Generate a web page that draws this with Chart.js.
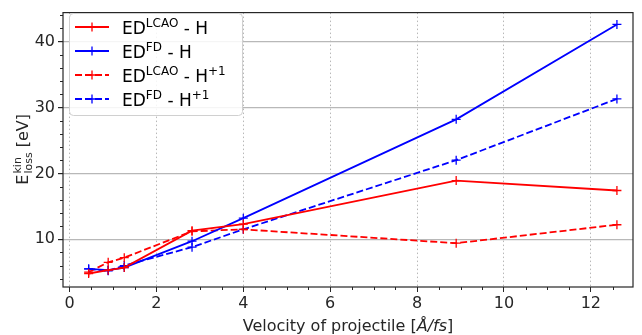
<!DOCTYPE html>
<html>
<head>
<meta charset="utf-8">
<script src="https://cdn.jsdelivr.net/npm/chart.js@4.4.1/dist/chart.umd.min.js"></script>
<style>
  html, body { margin: 0; padding: 0; background: #fff; }
  #wrap { width: 642px; height: 335px; }
</style>
</head>
<body>
<div id="wrap"><canvas id="c"></canvas></div>
<script>
// velocities of projectile [Å/fs]
const velocity = [0.44, 0.89, 1.26, 2.82, 4.0, 8.9, 12.6];

// kinetic energy loss [eV]
const lcaoH = [4.8, 5.3, 5.7, 11.3, 12.3, 18.9, 17.4];
const fdH = [5.5, 5.3, 5.7, 9.7, 13.2, 28.2, 42.6];
const lcaoH1 = [5.0, 6.5, 7.2, 11.2, 11.5, 9.4, 12.2];
const fdH1 = [5.5, 5.2, 6.0, 8.8, 11.5, 22.0, 31.3];

const xTicks = [0, 2, 4, 6, 8, 10, 12];
const yTicks = [10, 20, 30, 40];

const FONT = '"DejaVu Sans", sans-serif';
const INK = '#262626';
const DASH = [7, 3];

function pts(ys) {
    return velocity.map((v, i) => ({ x: v, y: ys[i] }));
}

function series(label, ys, color, dashed) {
    return {
        label: label,
        data: pts(ys),
        borderColor: color,
        backgroundColor: color,
        borderWidth: 1.8,
        borderDash: dashed ? DASH : [],
        pointStyle: 'cross',
        pointRadius: 4.5,
        pointBorderWidth: 1.3,
        pointHoverRadius: 4.5,
        tension: 0,
    };
}

const legendItems = [
    { base: 'ED', sup: 'LCAO', tail: ' - H', sup2: '', color: '#ff0000', dashed: false },
    { base: 'ED', sup: 'FD', tail: ' - H', sup2: '', color: '#0000ff', dashed: false },
    { base: 'ED', sup: 'LCAO', tail: ' - H', sup2: '+1', color: '#ff0000', dashed: true },
    { base: 'ED', sup: 'FD', tail: ' - H', sup2: '+1', color: '#0000ff', dashed: true },
];

const decor = {
    id: 'decor',
    afterDraw(chart) {
        const ctx = chart.ctx;
        const a = chart.chartArea;
        const xs = chart.scales.x;
        const ys = chart.scales.y;
        ctx.save();

        // minor ticks
        ctx.strokeStyle = INK;
        ctx.lineWidth = 1;
        for (let v = 0.5; v < 13; v += 0.5) {
            if (v % 2 === 0) continue;
            const px = Math.round(xs.getPixelForValue(v)) + 0.5;
            ctx.beginPath();
            ctx.moveTo(px, a.bottom);
            ctx.lineTo(px, a.bottom + 3);
            ctx.stroke();
        }
        for (let v = 4; v < 45; v += 2) {
            if (v % 10 === 0) continue;
            const py = Math.round(ys.getPixelForValue(v)) + 0.5;
            ctx.beginPath();
            ctx.moveTo(a.left, py);
            ctx.lineTo(a.left - 3, py);
            ctx.stroke();
        }

        // frame
        ctx.strokeStyle = INK;
        ctx.lineWidth = 1.2;
        ctx.strokeRect(a.left, a.top, a.right - a.left, a.bottom - a.top);

        // legend
        const lx = 69, ly = 13, lw = 173, lh = 102;
        ctx.fillStyle = 'rgba(255,255,255,0.85)';
        ctx.strokeStyle = '#d0d0d0';
        ctx.lineWidth = 1;
        ctx.beginPath();
        ctx.roundRect(lx + 0.5, ly + 0.5, lw, lh, 4);
        ctx.fill();
        ctx.stroke();
        legendItems.forEach((it, i) => {
            const cy = ly + 14 + i * 24;
            ctx.strokeStyle = it.color;
            ctx.lineWidth = 1.8;
            ctx.setLineDash(it.dashed ? DASH : []);
            ctx.beginPath();
            ctx.moveTo(75, cy);
            ctx.lineTo(109, cy);
            ctx.stroke();
            ctx.setLineDash([]);
            ctx.lineWidth = 1.3;
            ctx.beginPath();
            ctx.moveTo(92, cy - 4.5);
            ctx.lineTo(92, cy + 4.5);
            ctx.moveTo(87.5, cy);
            ctx.lineTo(96.5, cy);
            ctx.stroke();

            ctx.fillStyle = '#000';
            ctx.textBaseline = 'alphabetic';
            ctx.textAlign = 'left';
            let tx = 122;
            const base = cy + 7;
            ctx.font = '17px ' + FONT;
            ctx.fillText(it.base, tx, base);
            tx += ctx.measureText(it.base).width;
            ctx.font = '12px ' + FONT;
            ctx.fillText(it.sup, tx, base - 7);
            tx += ctx.measureText(it.sup).width;
            ctx.font = '17px ' + FONT;
            ctx.fillText(it.tail, tx, base);
            tx += ctx.measureText(it.tail).width;
            if (it.sup2) {
                ctx.font = '12px ' + FONT;
                ctx.fillText(it.sup2, tx, base - 7);
            }
        });

        // x axis title
        ctx.fillStyle = INK;
        ctx.textBaseline = 'alphabetic';
        const p1 = 'Velocity of projectile [';
        const p2 = 'Å/fs';
        const p3 = ']';
        ctx.font = '16px ' + FONT;
        const w1 = ctx.measureText(p1).width;
        const w3 = ctx.measureText(p3).width;
        ctx.font = 'italic 16px ' + FONT;
        const w2 = ctx.measureText(p2).width;
        let sx = (a.left + a.right) / 2 - (w1 + w2 + w3) / 2;
        const by = 331;
        ctx.textAlign = 'left';
        ctx.font = '16px ' + FONT;
        ctx.fillText(p1, sx, by);
        ctx.font = 'italic 16px ' + FONT;
        ctx.fillText(p2, sx + w1, by);
        ctx.font = '16px ' + FONT;
        ctx.fillText(p3, sx + w1 + w2, by);

        // y axis title
        ctx.translate(28, (a.top + a.bottom) / 2);
        ctx.rotate(-Math.PI / 2);
        ctx.font = '16px ' + FONT;
        const we = ctx.measureText('E').width;
        ctx.font = '11px ' + FONT;
        const wk = ctx.measureText('kin').width;
        const wl = ctx.measureText('loss').width;
        const wsub = Math.max(wk, wl);
        ctx.font = '16px ' + FONT;
        const wev = ctx.measureText(' [eV]').width;
        let ox = -(we + wsub + wev) / 2;
        ctx.fillText('E', ox, 0);
        ctx.font = '11px ' + FONT;
        ctx.fillText('kin', ox + we + 1, -7);
        ctx.fillText('loss', ox + we + 1, 4);
        ctx.font = '16px ' + FONT;
        ctx.fillText(' [eV]', ox + we + wsub + 1, 0);

        ctx.restore();
    },
};

new Chart(document.getElementById('c'), {
    type: 'line',
    data: {
        datasets: [
            series('ED LCAO - H', lcaoH, '#ff0000', false),
            series('ED FD - H', fdH, '#0000ff', false),
            series('ED LCAO - H+1', lcaoH1, '#ff0000', true),
            series('ED FD - H+1', fdH1, '#0000ff', true),
        ],
    },
    options: {
        responsive: true,
        maintainAspectRatio: false,
        animation: false,
        layout: { padding: { left: 0, right: 9, top: 5, bottom: 0 } },
        scales: {
            x: {
                type: 'linear',
                min: -0.15,
                max: 12.97,
                afterBuildTicks: (s) => { s.ticks = xTicks.map(v => ({ value: v })); },
                afterFit: (s) => { s.height = 48; },
                grid: {
                    color: '#b8b8b8',
                    lineWidth: 1,
                    tickColor: INK,
                    tickLength: 5,
                },
                border: { display: false, dash: [1.5, 2.5] },
                ticks: {
                    color: INK,
                    padding: 2,
                    maxRotation: 0,
                    font: { family: FONT, size: 16 },
                },
            },
            y: {
                type: 'linear',
                min: 2.75,
                max: 44.4,
                afterBuildTicks: (s) => { s.ticks = yTicks.map(v => ({ value: v })); },
                afterFit: (s) => { s.width = 63; },
                grid: {
                    color: '#b8b8b8',
                    lineWidth: 1.2,
                    tickColor: INK,
                    tickLength: 5,
                },
                border: { display: false },
                ticks: {
                    color: INK,
                    padding: 3,
                    font: { family: FONT, size: 16 },
                },
            },
        },
        plugins: {
            legend: { display: false },
            tooltip: { enabled: false },
        },
    },
    plugins: [decor],
});
</script>
</body>
</html>
